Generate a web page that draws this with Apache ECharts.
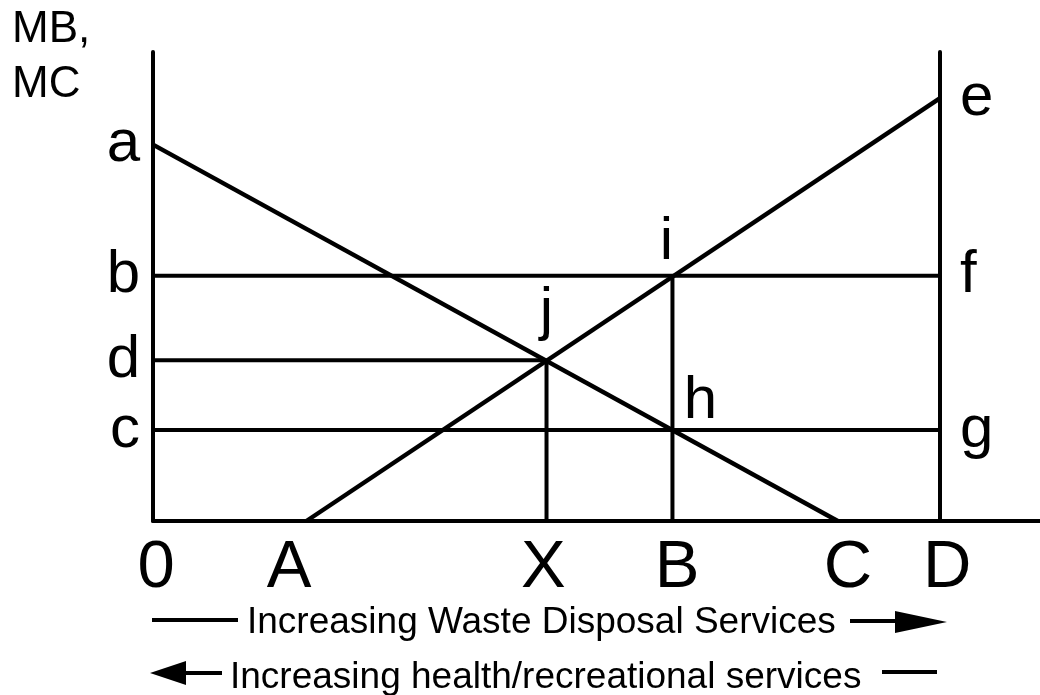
<!DOCTYPE html>
<html>
<head>
<meta charset="utf-8">
<script src="https://cdn.jsdelivr.net/npm/echarts@6/dist/echarts.min.js"></script>
<style>
html,body{margin:0;padding:0;background:#fff}
#chart{width:1040px;height:695px}
</style>
</head>
<body>
<div id="chart"></div>
<script>
// curves (quantity 0..D=100, price with e=100)
var mbLine=[[0,89],[87,0]];
var mcLine=[[19.5,0],[100,100]];
var bLine=[[0,58],[100,58]];
var cLine=[[0,21.5],[100,21.5]];
var dLine=[[0,38],[50,38]];
var xDrop=[[50,0],[50,38]];
var bDrop=[[66,0],[66,58]];
// tick labels
var xTickNames=['0','A','X','B','C','D'];
var xTickValues=[0.4,17.3,49.6,66.6,88.3,100.9];
var leftNames=['a','b','d','c'];
var leftValues=[89,58,38,21.5];
var rightNames=['e','f','g'];
var rightValues=[100,58,21.5];
var pointNames=['i','j','h'];
var pointValues=[[66,58],[50,38],[66,21.5]];

var font="'Liberation Sans', Arial, Helvetica, sans-serif";

function lookup(names,values){
	return function(v){
		for(var i=0;i<values.length;i++){
			if(Math.abs(values[i]-v)<0.01) return names[i];
		}
		return '';
	};
}

var myChart=echarts.init(document.getElementById('chart'));
function seg(data,w){
	return {type:'line',data:data,symbol:'none',silent:true,animation:false,
		lineStyle:{color:'#000',width:w}};
}
// label offsets for i, j, h
var pointOffsets=[[-6,-33],[0,-48],[28,-29]];
var pointData=[];
for(var k=0;k<pointValues.length;k++){
	pointData.push({value:pointValues[k],name:pointNames[k],
		label:{offset:pointOffsets[k]}});
}
var axisLine={show:true,onZero:false,lineStyle:{color:'#000',width:4}};
var option={
	animation:false,
	grid:{left:153,right:0,top:52,bottom:174,containLabel:false},
	xAxis:{
		type:'value',min:0,max:112.7,
		axisLine:axisLine,
		axisTick:{show:false},
		splitLine:{show:false},
		axisLabel:{
			customValues:xTickValues,
			formatter:lookup(xTickNames,xTickValues),
			color:'#000',fontFamily:font,fontSize:67,margin:14
		}
	},
	yAxis:[{
		type:'value',min:0,max:110.9,
		axisLine:axisLine,
		axisTick:{show:false},
		splitLine:{show:false},
		axisLabel:{
			customValues:leftValues,
			formatter:lookup(leftNames,leftValues),
			color:'#000',fontFamily:font,fontSize:60,margin:13
		}
	},{
		type:'value',min:0,max:110.9,position:'right',offset:-100,
		axisLine:axisLine,
		axisTick:{show:false},
		splitLine:{show:false},
		axisLabel:{
			customValues:rightValues,
			formatter:lookup(rightNames,rightValues),
			color:'#000',fontFamily:font,fontSize:60,margin:20
		}
	}],
	series:[
		seg(mbLine,4.5),
		seg(mcLine,4.5),
		seg(bLine,4),
		seg(cLine,4),
		seg(dLine,4),
		seg(xDrop,4),
		seg(bDrop,4),
		{
			type:'scatter',data:pointData,symbolSize:0,silent:true,
			itemStyle:{opacity:1},
			label:{show:true,position:'inside',formatter:'{b}',opacity:1,
				color:'#000',fontFamily:font,fontSize:60}
		}
	],
	graphic:[
		{type:'text',style:{x:12,y:30,text:'MB,',font:'44px '+font,fill:'#000',textVerticalAlign:'middle'}},
		{type:'text',style:{x:12,y:85,text:'MC',font:'44px '+font,fill:'#000',textVerticalAlign:'middle'}},
		{type:'line',shape:{x1:152,y1:620,x2:238,y2:620},style:{stroke:'#000',lineWidth:4}},
		{type:'text',style:{x:247,y:623,text:'Increasing Waste Disposal Services',font:'37px '+font,fill:'#000',textVerticalAlign:'middle'}},
		{type:'line',shape:{x1:850,y1:621,x2:900,y2:621},style:{stroke:'#000',lineWidth:4}},
		{type:'polygon',shape:{points:[[895,611],[947,622],[895,633]]},style:{fill:'#000'}},
		{type:'polygon',shape:{points:[[150,673],[186,661],[186,685]]},style:{fill:'#000'}},
		{type:'line',shape:{x1:183,y1:673,x2:222,y2:673},style:{stroke:'#000',lineWidth:4}},
		{type:'text',style:{x:230,y:678,text:'Increasing health/recreational services',font:'37px '+font,fill:'#000',textVerticalAlign:'middle'}},
		{type:'line',shape:{x1:882,y1:672,x2:937,y2:672},style:{stroke:'#000',lineWidth:4}}
	]
};
myChart.setOption(option);
</script>
</body>
</html>
